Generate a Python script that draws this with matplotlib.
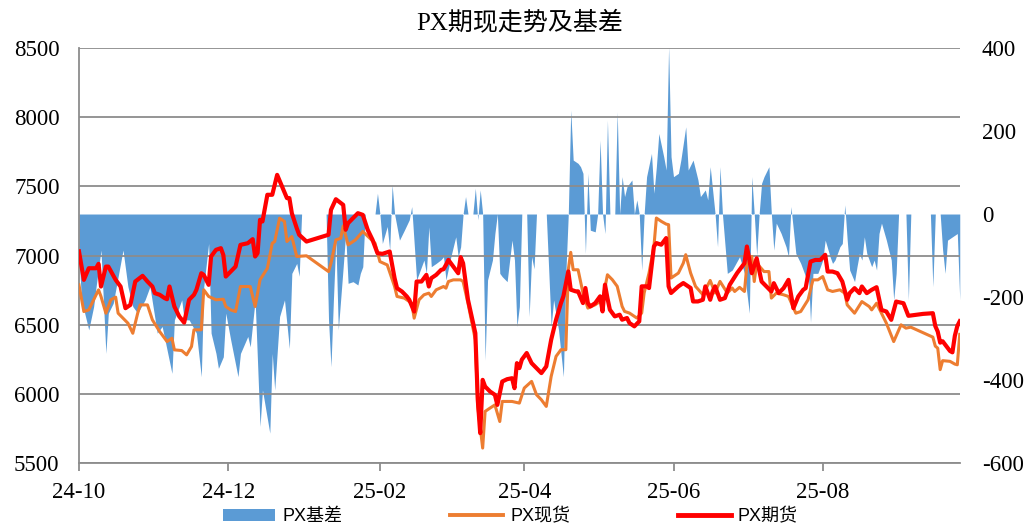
import matplotlib
matplotlib.use('Agg')
import matplotlib.pyplot as plt
import matplotlib.dates as mdates
from matplotlib.patches import Patch
from matplotlib.lines import Line2D
import pandas as pd

plt.rcParams['axes.unicode_minus'] = False

SERIF = ['Liberation Serif', 'Noto Sans CJK SC']
SANS = ['Liberation Sans', 'Noto Sans CJK SC']

TITLE = "PX期现走势及基差"
LABELS = ["PX基差", "PX现货", "PX期货"]
COLORS = {"basis": "#5B9BD5", "spot": "#ED7D31", "fut": "#FF0000"}
GRID = "#8c8c8c"

# PX期货 (left axis)
fut_dates = [
    "2024-10-01", "2024-10-03", "2024-10-05", "2024-10-08", "2024-10-09", "2024-10-10", "2024-10-12",
    "2024-10-13", "2024-10-16", "2024-10-18", "2024-10-20", "2024-10-22", "2024-10-24", "2024-10-27",
    "2024-10-29", "2024-10-31",
    "2024-11-01", "2024-11-03", "2024-11-05", "2024-11-06", "2024-11-07", "2024-11-09", "2024-11-11",
    "2024-11-13", "2024-11-15", "2024-11-17", "2024-11-18", "2024-11-20", "2024-11-21", "2024-11-23",
    "2024-11-24", "2024-11-26", "2024-11-28", "2024-11-29", "2024-11-30",
    "2024-12-04", "2024-12-06", "2024-12-09", "2024-12-11", "2024-12-12", "2024-12-13", "2024-12-14",
    "2024-12-15", "2024-12-17", "2024-12-19", "2024-12-21", "2024-12-23", "2024-12-25", "2024-12-26",
    "2024-12-27", "2024-12-29", "2024-12-30",
    "2025-01-02", "2025-01-11", "2025-01-12", "2025-01-14", "2025-01-17", "2025-01-18", "2025-01-19",
    "2025-01-23", "2025-01-25", "2025-01-27", "2025-01-29", "2025-01-31",
    "2025-02-02", "2025-02-05", "2025-02-07", "2025-02-08", "2025-02-10", "2025-02-12", "2025-02-13",
    "2025-02-15", "2025-02-16", "2025-02-18", "2025-02-20", "2025-02-21", "2025-02-22", "2025-02-24",
    "2025-02-26", "2025-02-27", "2025-02-28",
    "2025-03-01", "2025-03-03", "2025-03-05", "2025-03-06", "2025-03-07", "2025-03-09", "2025-03-12",
    "2025-03-13", "2025-03-14", "2025-03-15", "2025-03-16", "2025-03-18", "2025-03-20", "2025-03-21",
    "2025-03-23", "2025-03-25", "2025-03-27", "2025-03-28", "2025-03-29", "2025-03-30", "2025-03-31",
    "2025-04-02", "2025-04-04", "2025-04-06", "2025-04-08", "2025-04-10", "2025-04-12", "2025-04-14",
    "2025-04-16", "2025-04-17", "2025-04-19", "2025-04-20", "2025-04-22", "2025-04-23", "2025-04-25",
    "2025-04-26", "2025-04-27", "2025-04-28", "2025-04-30",
    "2025-05-02", "2025-05-03", "2025-05-04", "2025-05-05", "2025-05-06", "2025-05-08", "2025-05-10",
    "2025-05-11", "2025-05-13", "2025-05-14", "2025-05-16", "2025-05-18", "2025-05-19", "2025-05-21",
    "2025-05-22", "2025-05-24", "2025-05-25", "2025-05-27", "2025-05-29", "2025-05-30", "2025-05-31",
    "2025-06-03", "2025-06-05", "2025-06-08", "2025-06-09", "2025-06-11", "2025-06-13", "2025-06-14",
    "2025-06-16", "2025-06-17", "2025-06-18", "2025-06-20", "2025-06-22", "2025-06-24", "2025-06-27",
    "2025-06-28", "2025-06-30",
    "2025-07-01", "2025-07-02", "2025-07-03", "2025-07-05", "2025-07-07", "2025-07-09", "2025-07-11",
    "2025-07-12", "2025-07-14", "2025-07-16", "2025-07-18", "2025-07-20", "2025-07-22", "2025-07-24",
    "2025-07-25", "2025-07-27", "2025-07-29", "2025-07-31",
    "2025-08-02", "2025-08-03", "2025-08-05", "2025-08-07", "2025-08-09", "2025-08-11", "2025-08-12",
    "2025-08-14", "2025-08-16", "2025-08-17", "2025-08-19", "2025-08-21", "2025-08-23", "2025-08-25",
    "2025-08-27", "2025-08-29", "2025-08-31",
    "2025-09-03", "2025-09-05", "2025-09-08", "2025-09-11", "2025-09-15", "2025-09-16", "2025-09-17",
    "2025-09-18", "2025-09-19", "2025-09-22", "2025-09-23", "2025-09-24", "2025-09-25", "2025-09-26",
]
fut_vals = [
    7030, 6824, 6908, 6908, 6940, 6776, 6920,
    6920, 6824, 6776, 6619, 6643, 6812, 6853,
    6812, 6776,
    6728, 6716, 6692, 6684, 6776, 6631, 6559,
    6515, 6680, 6716, 6752, 6872, 6860, 6788,
    6993, 7041, 7053, 7004, 6848,
    6920, 7077, 7089, 7118, 6993, 7017, 7258,
    7246, 7439, 7439, 7583, 7499, 7415, 7415,
    7306, 7198, 7150,
    7101, 7150, 7330, 7407, 7366, 7186, 7234,
    7306, 7294, 7186, 7113, 7017,
    7012, 7029, 6836, 6764, 6740, 6704, 6680,
    6595, 6812, 6812, 6860, 6776, 6836, 6860,
    6896, 6901, 6932,
    6968, 6920, 6872, 6988, 6944, 6680, 6439,
    5957, 5716, 6101, 6053, 6017, 5993, 5920,
    6089, 6106, 6113, 6041, 6222, 6186, 6247,
    6295, 6222, 6186, 6150, 6198, 6391, 6536,
    6656, 6705, 6885, 6753, 6741, 6741, 6656,
    6765, 6656, 6632, 6656,
    6705, 6596, 6789, 6692, 6608, 6560, 6572,
    6536, 6548, 6512, 6488, 6524, 6777, 6777,
    6765, 7066, 7090, 7078, 7126, 6777, 6729,
    6777, 6801, 6765, 6668, 6668, 6680, 6777,
    6680, 6741, 6777, 6680, 6692, 6789, 6873,
    6897, 6944,
    7065, 6968, 6872, 6980, 6812, 6776, 6740,
    6800, 6728, 6764, 6824, 6619, 6704, 6752,
    6764, 6956, 6968, 6968,
    7005, 6884, 6884, 6872, 6812, 6680, 6728,
    6764, 6728, 6776, 6728, 6752, 6771, 6607,
    6595, 6535, 6667,
    6655, 6564, 6571, 6578, 6583, 6490, 6450,
    6370, 6380, 6310, 6300, 6420, 6490, 6525,
]

# PX现货 (left axis)
spot_dates = [
    "2024-10-01", "2024-10-03", "2024-10-05", "2024-10-07", "2024-10-09", "2024-10-10", "2024-10-12",
    "2024-10-13", "2024-10-14", "2024-10-16", "2024-10-17", "2024-10-19", "2024-10-21", "2024-10-23",
    "2024-10-25", "2024-10-26", "2024-10-29", "2024-10-31",
    "2024-11-03", "2024-11-06", "2024-11-08", "2024-11-09", "2024-11-12", "2024-11-14", "2024-11-16",
    "2024-11-17", "2024-11-20", "2024-11-21", "2024-11-23", "2024-11-26", "2024-11-29", "2024-11-30",
    "2024-12-02", "2024-12-04", "2024-12-06", "2024-12-10", "2024-12-12", "2024-12-14", "2024-12-17",
    "2024-12-19", "2024-12-20", "2024-12-22", "2024-12-24", "2024-12-25", "2024-12-27", "2024-12-29",
    "2025-01-02", "2025-01-11", "2025-01-12", "2025-01-14", "2025-01-16", "2025-01-17", "2025-01-19",
    "2025-01-22", "2025-01-25", "2025-01-30",
    "2025-02-01", "2025-02-04", "2025-02-07", "2025-02-08", "2025-02-11", "2025-02-14", "2025-02-15",
    "2025-02-17", "2025-02-19", "2025-02-21", "2025-02-22", "2025-02-24", "2025-02-27", "2025-02-28",
    "2025-03-01", "2025-03-03", "2025-03-06", "2025-03-07", "2025-03-09", "2025-03-12", "2025-03-13",
    "2025-03-15", "2025-03-16", "2025-03-18", "2025-03-20", "2025-03-22", "2025-03-23", "2025-03-27",
    "2025-03-30",
    "2025-04-01", "2025-04-04", "2025-04-06", "2025-04-08", "2025-04-10", "2025-04-12", "2025-04-14",
    "2025-04-16", "2025-04-18", "2025-04-19", "2025-04-20", "2025-04-21", "2025-04-23", "2025-04-25",
    "2025-04-27", "2025-04-30",
    "2025-05-03", "2025-05-05", "2025-05-07", "2025-05-09", "2025-05-11", "2025-05-12", "2025-05-14",
    "2025-05-17", "2025-05-19", "2025-05-20", "2025-05-22", "2025-05-24", "2025-05-25", "2025-05-27",
    "2025-05-29", "2025-05-30", "2025-05-31",
    "2025-06-03", "2025-06-05", "2025-06-06", "2025-06-08", "2025-06-10", "2025-06-13", "2025-06-16",
    "2025-06-18", "2025-06-20", "2025-06-23", "2025-06-25", "2025-06-26", "2025-06-28", "2025-06-30",
    "2025-07-01", "2025-07-03", "2025-07-04", "2025-07-05", "2025-07-08", "2025-07-10", "2025-07-11",
    "2025-07-13", "2025-07-16", "2025-07-18", "2025-07-21", "2025-07-23", "2025-07-26", "2025-07-28",
    "2025-07-30",
    "2025-08-01", "2025-08-03", "2025-08-05", "2025-08-08", "2025-08-10", "2025-08-11", "2025-08-14",
    "2025-08-17", "2025-08-20", "2025-08-21", "2025-08-23", "2025-08-25", "2025-08-27", "2025-08-30",
    "2025-09-02", "2025-09-04", "2025-09-06", "2025-09-10", "2025-09-15", "2025-09-16", "2025-09-17",
    "2025-09-18", "2025-09-19", "2025-09-22", "2025-09-24", "2025-09-25", "2025-09-26",
]
spot_vals = [
    6788, 6595, 6607, 6680, 6752, 6704, 6583,
    6631, 6680, 6699, 6583, 6547, 6511, 6438,
    6583, 6643, 6643, 6535,
    6450, 6378, 6402, 6318, 6313, 6282, 6342,
    6463, 6463, 6752, 6704, 6680, 6684, 6631,
    6607, 6595, 6776, 6776, 6631, 6824, 6908,
    7089, 7101, 7270, 7246, 7101, 7137, 6993,
    6998, 6884, 6944, 7113, 7125, 7214, 7077,
    7113, 7174, 7089,
    6956, 6932, 6776, 6704, 6692, 6655, 6547,
    6680, 6716, 6728, 6704, 6752, 6776, 6764,
    6812, 6824, 6824, 6812, 6655, 6390, 5909,
    5608, 5873, 5897, 5920, 5800, 5945, 5945,
    5933,
    6042, 6090, 5994, 5957, 5909, 6126, 6271,
    6319, 6319, 6897, 7023, 6897, 6897, 6729,
    6620, 6644,
    6680, 6861, 6825, 6777, 6632, 6596, 6584,
    6548, 6584, 6729, 6873, 7066, 7271, 7247,
    7227, 7223, 6837,
    6873, 6945, 7006, 6873, 6777, 6717, 6820,
    6729, 6813, 6729, 6765, 6740, 6770, 6740,
    6932, 6993, 6812, 6944, 6884, 6884, 6692,
    6728, 6716, 6704, 6583, 6595, 6680, 6824,
    6824,
    6848, 6752, 6740, 6752, 6728, 6643, 6583,
    6667, 6631, 6607, 6655, 6583, 6511, 6378,
    6499, 6475, 6482, 6450, 6410, 6345, 6330,
    6175, 6240, 6235, 6215, 6210, 6430,
]

# PX基差 (right axis)
basis_dates = [
    "2024-10-01", "2024-10-02", "2024-10-05", "2024-10-07", "2024-10-08", "2024-10-10", "2024-10-12",
    "2024-10-13", "2024-10-15", "2024-10-17", "2024-10-19", "2024-10-21", "2024-10-23", "2024-10-25",
    "2024-10-28", "2024-10-30",
    "2024-11-02", "2024-11-04", "2024-11-08", "2024-11-09", "2024-11-12", "2024-11-13", "2024-11-15",
    "2024-11-18", "2024-11-20", "2024-11-21", "2024-11-23", "2024-11-24", "2024-11-26", "2024-11-27",
    "2024-11-29", "2024-11-30",
    "2024-12-02", "2024-12-05", "2024-12-06", "2024-12-09", "2024-12-10", "2024-12-12", "2024-12-14",
    "2024-12-15", "2024-12-18", "2024-12-19", "2024-12-20", "2024-12-22", "2024-12-24", "2024-12-26",
    "2024-12-27", "2024-12-29", "2024-12-30", "2024-12-31",
    "2025-01-10", "2025-01-11", "2025-01-12", "2025-01-13", "2025-01-14", "2025-01-15", "2025-01-17",
    "2025-01-18", "2025-01-19", "2025-01-21", "2025-01-23", "2025-01-24", "2025-01-25", "2025-01-26",
    "2025-01-30", "2025-01-31",
    "2025-02-01", "2025-02-02", "2025-02-04", "2025-02-05", "2025-02-06", "2025-02-07", "2025-02-09",
    "2025-02-11", "2025-02-13", "2025-02-14", "2025-02-16", "2025-02-17", "2025-02-19", "2025-02-20",
    "2025-02-21", "2025-02-22", "2025-02-24", "2025-02-26", "2025-02-27", "2025-02-28",
    "2025-03-02", "2025-03-04", "2025-03-05", "2025-03-06", "2025-03-07", "2025-03-08", "2025-03-09",
    "2025-03-11", "2025-03-12", "2025-03-13", "2025-03-14", "2025-03-15", "2025-03-16", "2025-03-17",
    "2025-03-19", "2025-03-20", "2025-03-21", "2025-03-22", "2025-03-23", "2025-03-25", "2025-03-27",
    "2025-03-28", "2025-03-29", "2025-03-30", "2025-03-31",
    "2025-04-02", "2025-04-03", "2025-04-04", "2025-04-05", "2025-04-06", "2025-04-10", "2025-04-12",
    "2025-04-13", "2025-04-15", "2025-04-17", "2025-04-18", "2025-04-19", "2025-04-20", "2025-04-21",
    "2025-04-23", "2025-04-24", "2025-04-25", "2025-04-26", "2025-04-27", "2025-04-28", "2025-04-30",
    "2025-05-01", "2025-05-02", "2025-05-03", "2025-05-04", "2025-05-05", "2025-05-06", "2025-05-08",
    "2025-05-09", "2025-05-10", "2025-05-11", "2025-05-12", "2025-05-13", "2025-05-15", "2025-05-16",
    "2025-05-17", "2025-05-18", "2025-05-19", "2025-05-20", "2025-05-21", "2025-05-23", "2025-05-24",
    "2025-05-25", "2025-05-26", "2025-05-28", "2025-05-29", "2025-05-30", "2025-05-31",
    "2025-06-01", "2025-06-03", "2025-06-04", "2025-06-06", "2025-06-07", "2025-06-09", "2025-06-11",
    "2025-06-12", "2025-06-14", "2025-06-15", "2025-06-16", "2025-06-18", "2025-06-19", "2025-06-20",
    "2025-06-21", "2025-06-23", "2025-06-25", "2025-06-28", "2025-06-30",
    "2025-07-02", "2025-07-03", "2025-07-04", "2025-07-05", "2025-07-06", "2025-07-07", "2025-07-08",
    "2025-07-10", "2025-07-11", "2025-07-12", "2025-07-13", "2025-07-15", "2025-07-17", "2025-07-18",
    "2025-07-19", "2025-07-21", "2025-07-23", "2025-07-25", "2025-07-26", "2025-07-27", "2025-07-28",
    "2025-07-30",
    "2025-08-01", "2025-08-02", "2025-08-04", "2025-08-05", "2025-08-06", "2025-08-08", "2025-08-09",
    "2025-08-10", "2025-08-11", "2025-08-12", "2025-08-14", "2025-08-15", "2025-08-16", "2025-08-17",
    "2025-08-18", "2025-08-19", "2025-08-21", "2025-08-22", "2025-08-23", "2025-08-24", "2025-08-25",
    "2025-08-27", "2025-08-29", "2025-08-30", "2025-08-31",
    "2025-09-01", "2025-09-04", "2025-09-05", "2025-09-06", "2025-09-14", "2025-09-15", "2025-09-16",
    "2025-09-18", "2025-09-19", "2025-09-20", "2025-09-21", "2025-09-23", "2025-09-25", "2025-09-26",
]
basis_vals = [
    -95, -207, -279, -223, -175, -87, -336,
    -239, -215, -151, -87, -175, -223, -239,
    -207, -175,
    -287, -271, -384, -255, -207, -255, -255,
    -287, -392, -175, -71, -287, -336, -372,
    -344, -239,
    -303, -392, -336, -295, -320, -207, -512,
    -424, -528, -336, -424, -247, -207, -324,
    -143, -119, -150, 0,
    0, -255, -368, -207, -63, -279, -127,
    -47, -167, -163, -171, -143, -127, 0,
    0, 50,
    0, -71, -30, -87, 70, 0, -63,
    -39, -14, 18, -159, -143, -111, -143,
    -31, -127, -119, -110, -103, -159,
    -103, -55, -103, -79, 0, 42, 0,
    0, 62, -14, 58, 0, -352, -159,
    -111, -47, 0, -143, -151, -163, -63,
    -111, -271, -223, 0,
    0, -247, -103, -132, 0, 0, -271,
    -207, -279, -392, -143, 0, 250, 130,
    122, 114, 98, -95, 98, -39, -43,
    0, 178, 0, -47, 226, 0, 0,
    246, 0, 90, 42, 66, 82, 0,
    34, 0, -135, 0, 90, 146, 50,
    114, 194, 138, 106, 403, 138,
    90, 98, 130, 210, 106, 130, 82,
    42, 58, 34, 114, 0, -79, 114,
    0, -143, -135, -103, -143,
    -239, 90, 0, -100, 0, 74, 90,
    114, 0, -87, -22, -47, -79, -103,
    18, -95, -119, -151, -127, -261, -143,
    -143,
    -111, -63, -103, -119, -111, -79, -71,
    22, -63, -135, -163, -127, -95, -111,
    -55, -95, -127, -111, -135, -47, -22,
    -63, -111, -207, -143,
    0, 0, -207, 0, 0, -175, 0,
    0, -87, -143, -63, -55, -47, -207,
]

fut_x = pd.to_datetime(fut_dates)
spot_x = pd.to_datetime(spot_dates)
basis_x = pd.to_datetime(basis_dates)

fig = plt.figure(figsize=(10.35, 5.3), dpi=100)
ax = fig.add_axes([0.0763, 0.1264, 0.851, 0.783])
ax2 = ax.twinx()

# basis area on the right axis, drawn underneath the price lines
ax2.fill_between(basis_x, basis_vals, 0, color=COLORS["basis"], linewidth=0)
ax2.set_ylim(-600, 400)
ax2.set_yticks(range(-600, 401, 200))

ax.set_zorder(ax2.get_zorder() + 1)
ax.patch.set_visible(False)

ax.plot(spot_x, spot_vals, color=COLORS["spot"], linewidth=2.2, zorder=3)
ax.plot(fut_x, fut_vals, color=COLORS["fut"], linewidth=3.0, zorder=4)

ax.set_ylim(5500, 8500)
ax.set_yticks(range(5500, 8501, 500))
ax.set_xlim(pd.Timestamp("2024-10-01"), pd.Timestamp("2025-09-26"))
ax.xaxis.set_major_locator(mdates.MonthLocator(bymonth=[2, 4, 6, 8, 10, 12]))
ax.xaxis.set_major_formatter(mdates.DateFormatter("%y-%m"))

ax.grid(True, axis="y", color=GRID, linewidth=1.3, zorder=1)
for s in ["top", "right"]:
    ax.spines[s].set_visible(False)
for s in ["left", "bottom"]:
    ax.spines[s].set_color(GRID)
    ax.spines[s].set_linewidth(1.3)
for s in ax2.spines.values():
    s.set_visible(False)

ax.tick_params(axis="y", length=0, pad=14)
ax.tick_params(axis="x", length=6, width=1.3, color=GRID, pad=8)
ax2.tick_params(axis="y", length=0, pad=16)
for lab in ax.get_yticklabels() + ax.get_xticklabels() + ax2.get_yticklabels():
    lab.set_family(SERIF)
    lab.set_fontsize(16.5)
    lab.set_color("black")

fig.text(0.502, 0.958, TITLE, ha="center", va="center", fontsize=18, family=SERIF)

handles = [
    Patch(facecolor=COLORS["basis"], edgecolor="none"),
    Line2D([], [], color=COLORS["spot"], linewidth=2.8),
    Line2D([], [], color=COLORS["fut"], linewidth=3.5),
]
fig.legend(handles, LABELS, loc="center", bbox_to_anchor=(0.493, 0.025), ncol=3,
           frameon=False, prop={"family": SANS, "size": 13},
           handlelength=2.9, handleheight=0.7, handletextpad=0.4, columnspacing=6.0)

fig.savefig("out.png", dpi=100)
plt.close()
